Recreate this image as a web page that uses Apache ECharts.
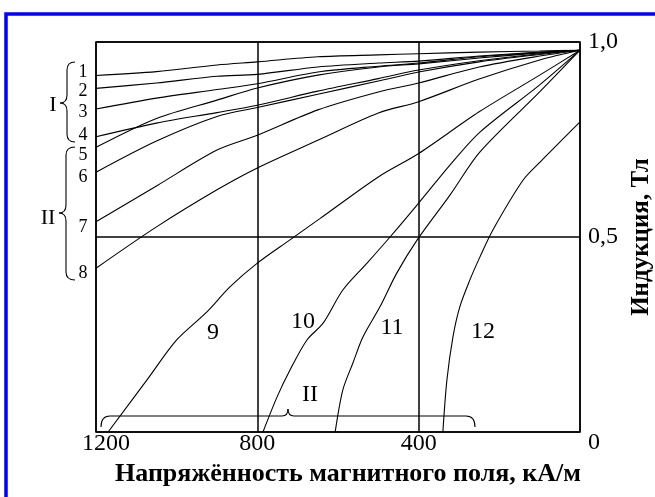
<!DOCTYPE html>
<html>
<head>
<meta charset="utf-8">
<script src="https://cdn.jsdelivr.net/npm/echarts@6/dist/echarts.min.js"></script>
<style>html,body{margin:0;padding:0;background:#fff;}#c{width:655px;height:497px;}</style>
</head>
<body>
<div id="c"></div>
<script>
// Field strength H, kA/m (x axis, reversed) and induction B, T (y axis)
const xTicks = [0, 400, 800, 1200];
const yTicks = [0, 0.5, 1.0];

const H_1to8 = [1200, 1050, 900, 800, 650, 500, 400, 250, 100, 0];
const B1 = [0.914, 0.924, 0.941, 0.949, 0.962, 0.967, 0.970, 0.974, 0.977, 0.979];
const B2 = [0.881, 0.895, 0.912, 0.917, 0.936, 0.946, 0.951, 0.964, 0.974, 0.979];
const B3 = [0.828, 0.856, 0.878, 0.893, 0.923, 0.938, 0.946, 0.962, 0.973, 0.979];
const B4 = [0.757, 0.792, 0.819, 0.838, 0.874, 0.906, 0.928, 0.952, 0.970, 0.979];
const B5 = [0.730, 0.804, 0.851, 0.882, 0.915, 0.936, 0.944, 0.959, 0.972, 0.979];
const B6 = [0.666, 0.746, 0.809, 0.832, 0.866, 0.900, 0.923, 0.949, 0.968, 0.979];
const B7 = [0.539, 0.631, 0.723, 0.761, 0.826, 0.872, 0.895, 0.936, 0.964, 0.979];
const B8 = [0.420, 0.526, 0.621, 0.677, 0.748, 0.818, 0.847, 0.905, 0.954, 0.979];

const H9 = [1170, 1074, 1000, 925, 868, 800, 720, 645, 500, 400, 250, 100, 0];
const B9 = [0, 0.133, 0.236, 0.308, 0.372, 0.433, 0.492, 0.547, 0.654, 0.714, 0.821, 0.915, 0.979];

const H10 = [786, 751, 719, 677, 637, 588, 528, 471, 400, 322, 248, 100, 0];
const B10 = [0, 0.090, 0.159, 0.236, 0.279, 0.364, 0.433, 0.500, 0.587, 0.685, 0.769, 0.890, 0.979];

const H11 = [607, 588, 563, 538, 496, 454, 404, 322, 248, 100, 0];
const B11 = [0, 0.108, 0.177, 0.244, 0.321, 0.408, 0.492, 0.608, 0.718, 0.872, 0.979];

const H12 = [340, 330, 315, 298, 273, 248, 216, 141, 99, 0];
const B12 = [0, 0.133, 0.244, 0.321, 0.390, 0.449, 0.518, 0.646, 0.692, 0.795];

const curves = [
  [H_1to8, B1], [H_1to8, B2], [H_1to8, B3], [H_1to8, B4],
  [H_1to8, B5], [H_1to8, B6], [H_1to8, B7], [H_1to8, B8],
  [H9, B9], [H10, B10], [H11, B11], [H12, B12]
];

const SERIF = '"Liberation Serif", "DejaVu Serif", serif';

const chart = echarts.init(document.getElementById('c'), null, {renderer: 'canvas'});

const series = curves.map((c, i) => ({
  type: 'line',
  name: String(i + 1),
  data: c[0].map((h, k) => [h, c[1][k]]),
  showSymbol: false,
  symbol: 'none',
  smooth: 0.3,
  lineStyle: {color: '#000', width: 1.1},
  silent: true,
  z: 3
}));

function txt(x, y, s, size) {
  return {type: 'text', x: x, y: y, silent: true,
    style: {text: s, fontFamily: SERIF, fontSize: size, fill: '#000', align: 'center', verticalAlign: 'middle'}};
}
const ST = {fill: null, stroke: '#000', lineWidth: 1.1};
function seg(x1, y1, x2, y2) {
  return {type: 'line', silent: true, shape: {x1: x1, y1: y1, x2: x2, y2: y2}, style: ST};
}
function qc(x1, y1, cx, cy, x2, y2) {
  return {type: 'bezierCurve', silent: true, shape: {x1: x1, y1: y1, cpx1: cx, cpy1: cy, x2: x2, y2: y2}, style: ST};
}
// vertical brace: stroke x, tip x, end x, top y, tip y, bottom y
function vBrace(xs, xt, xe, y0, ym, y1) {
  return [
    qc(xe, y0, xs, y0, xs, y0 + 8), seg(xs, y0 + 8, xs, ym - 8),
    qc(xs, ym - 8, xs, ym, xt, ym), qc(xt, ym, xs, ym, xs, ym + 8),
    seg(xs, ym + 8, xs, y1 - 8), qc(xs, y1 - 8, xs, y1, xe, y1)
  ];
}
function hBrace(x0, xm, x1, ys, yt, ye) {
  return [
    qc(x0, ye, x0, ys, x0 + 9, ys), seg(x0 + 9, ys, xm - 6, ys),
    qc(xm - 6, ys, xm, ys, xm, yt), qc(xm, yt, xm, ys, xm + 6, ys),
    seg(xm + 6, ys, x1 - 9, ys), qc(x1 - 9, ys, x1, ys, x1, ye)
  ];
}

const option = {
  animation: false,
  backgroundColor: '#fff',
  grid: {left: 96, right: 75, top: 42, bottom: 65, containLabel: false, outerBoundsMode: 'none',
    show: true, borderColor: '#000', borderWidth: 1.5, backgroundColor: 'transparent', z: 4},
  xAxis: {
    type: 'value', inverse: true, min: 0, max: 1200, interval: 400,
    axisLine: {show: false}, axisTick: {show: false},
    splitLine: {show: true, lineStyle: {color: '#000', width: 1.5}},
    axisLabel: {
      margin: 0, color: '#000', fontFamily: SERIF, fontSize: 24,
      formatter: v => v === 0 ? '' : (v === 1200 ? '{m|1200}' : String(v)),
      rich: {m: {padding: [0, 0, 0, 20], fontFamily: SERIF, fontSize: 24, color: '#000'}}
    },
    name: 'Напряжённость магнитного поля, кА/м',
    nameLocation: 'middle', nameGap: 28,
    nameTextStyle: {fontFamily: SERIF, fontSize: 26, fontWeight: 'bold', color: '#000', padding: [0, 0, 0, 20]}
  },
  yAxis: {
    type: 'value', position: 'right', min: 0, max: 1.0, interval: 0.5,
    axisLine: {show: false}, axisTick: {show: false},
    splitLine: {show: true, lineStyle: {color: '#000', width: 1.5}},
    axisLabel: {
      margin: 8, color: '#000', fontFamily: SERIF, fontSize: 24,
      formatter: v => yTicks.indexOf(v) < 0 ? '' : (v === 0 ? '{z|0}' : v.toFixed(1).replace('.', ',')),
      rich: {z: {padding: [22, 0, 0, 0], fontFamily: SERIF, fontSize: 24, color: '#000'}}
    },
    name: 'Индукция, Тл',
    nameLocation: 'middle', nameRotate: 90, nameGap: 38,
    nameTextStyle: {fontFamily: SERIF, fontSize: 25, fontWeight: 'bold', color: '#000'}
  },
  series: series,
  graphic: [
    {type: 'rect', silent: true, shape: {x: 6, y: 14, width: 720, height: 600},
      style: {fill: null, stroke: '#0000ff', lineWidth: 3.5}},
    txt(83, 72, '1', 18), txt(83, 91, '2', 18), txt(83, 112, '3', 18), txt(83, 135, '4', 18),
    txt(83, 155, '5', 18), txt(83, 177, '6', 18), txt(83, 227, '7', 18), txt(83, 273, '8', 18),
    txt(53, 105, 'I', 22), txt(48, 218, 'II', 22),
    ...vBrace(67, 60, 75, 62, 103, 142),
    ...vBrace(66, 59, 75, 147, 213, 280),
    ...hBrace(101, 288, 475, 416, 409, 427),
    txt(310, 395, 'II', 24),
    txt(213, 333, '9', 24), txt(303, 322, '10', 24), txt(392, 328, '11', 24), txt(483, 332, '12', 24)
  ]
};
chart.setOption(option);
</script>
</body>
</html>
